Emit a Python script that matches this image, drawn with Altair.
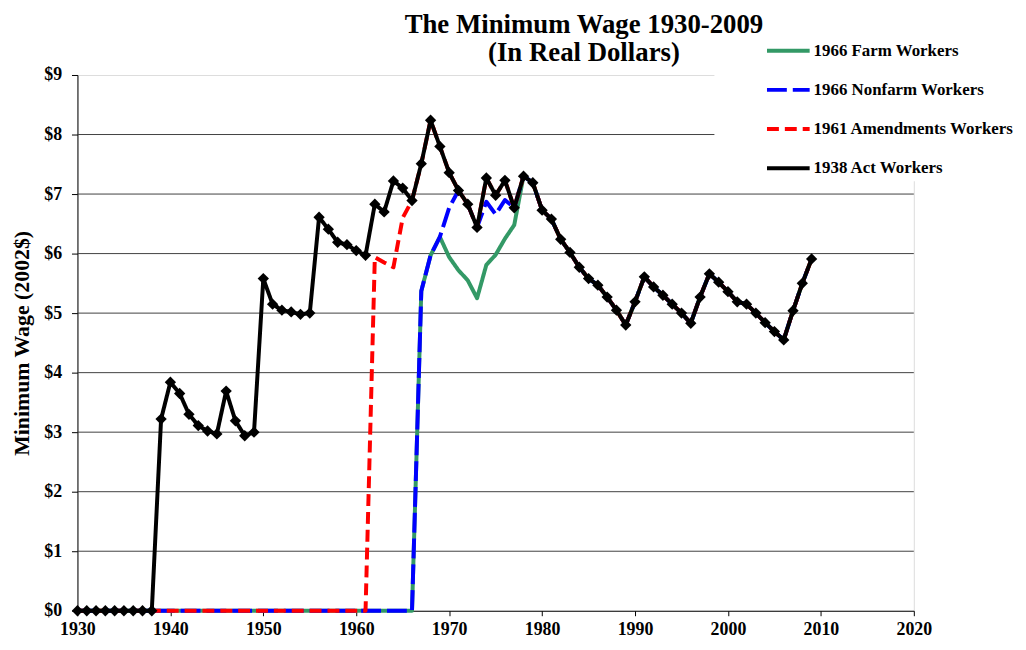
import altair as alt
import pandas as pd

# ---------------- data ----------------
years = list(range(1930, 2010))

# 1938 Act workers, real 2002 dollars, 1930..2009
act_1938 = [
    0, 0, 0, 0, 0, 0, 0, 0, 0,                                   # 1930-1938
    3.22, 3.84, 3.65, 3.30, 3.11, 3.02, 2.97, 3.69, 3.19, 2.94, 3.00,  # 1939-1949
    5.58, 5.15, 5.05, 5.02, 4.98, 5.00,                           # 1950-1955
    6.61, 6.41, 6.19, 6.15, 6.05, 5.97,                           # 1956-1961
    6.83, 6.70, 7.22, 7.10, 6.89,                                 # 1962-1966
    7.51, 8.24, 7.80, 7.36, 7.06, 6.83, 6.44,                     # 1967-1973
    7.27, 6.98, 7.23, 6.77, 7.30, 7.19,                           # 1974-1979
    6.73, 6.58, 6.24, 6.02, 5.77, 5.58, 5.47, 5.27, 5.05, 4.80,   # 1980-1989
    5.19, 5.61, 5.44, 5.30, 5.15, 5.00, 4.83, 5.27, 5.66, 5.52,   # 1990-1999
    5.36, 5.19, 5.15, 5.00, 4.84, 4.69, 4.55, 5.04, 5.50, 5.91,   # 2000-2009
]
amend_1961_early = [5.94, 5.85, 5.77, 6.60]          # 1962-1965
nonfarm_1966_early = [5.37, 5.97, 6.28, 6.77]        # 1967-1970
nonfarm_1966_mid = [6.87, 6.66, 6.90]                # 1974-1976
farm_1966_early = [5.37, 5.97, 6.28, 5.94, 5.72, 5.55, 5.25,
                   5.81, 5.98, 6.25, 6.48]           # 1967-1977

series_names = ["1966 Farm Workers", "1966 Nonfarm Workers",
                "1961 Amendments Workers", "1938 Act Workers"]
series_colors = ["#339966", "#0000FF", "#FF0000", "#000000"]
series_dashes = [[1, 0], [20, 6], [12, 6], [1, 0]]

dollar_ticks = list(range(0, 10))
year_ticks = list(range(1930, 2030, 10))
grid_levels = list(range(1, 9))

title_lines = ["The Minimum Wage 1930-2009", "(In Real Dollars)"]
y_title = "Minimum Wage (2002$)"


def ix(y):
    return y - 1930


amend_1961 = [0] * ix(1962) + amend_1961_early + act_1938[ix(1966):]
nonfarm_1966 = ([0] * ix(1967) + nonfarm_1966_early + act_1938[ix(1971):ix(1974)]
                + nonfarm_1966_mid + act_1938[ix(1977):])
farm_1966 = [0] * ix(1967) + farm_1966_early + act_1938[ix(1978):]

series_values = [farm_1966, nonfarm_1966, amend_1961, act_1938]

rows = []
for name, vals in zip(series_names, series_values):
    for yr, v in zip(years, vals):
        rows.append({"year": yr, "value": v, "series": name})
df = pd.DataFrame(rows)
grid_df = pd.DataFrame({"level": grid_levels})

FONT = "Liberation Serif"

x_enc = alt.X(
    "year:Q",
    scale=alt.Scale(domain=[1930, 2020], nice=False, zero=False),
    axis=alt.Axis(values=year_ticks, format="d", title=None, grid=False,
                  labelFlush=False,
                  labelFont=FONT, labelFontSize=18, labelFontWeight="bold",
                  labelColor="black", tickSize=5, labelPadding=5,
                  domainColor="black", tickColor="black"),
)
y_axis = alt.Axis(values=dollar_ticks, labelExpr="'$' + datum.value",
                  title=y_title, grid=False, labelFlush=False,
                  labelFont=FONT, labelFontSize=18, labelFontWeight="bold",
                  labelColor="black", tickSize=6, labelPadding=10,
                  titleFont=FONT, titleFontSize=22, titleFontWeight="bold",
                  titleColor="black", titlePadding=10,
                  domainColor="black", tickColor="black")
y_scale = alt.Scale(domain=[0, 9], nice=False)

legend = alt.Legend(
    title=None, orient="none", legendX=642, legendY=-53,
    fillColor="white", padding=5, symbolOffset=46,
    symbolType="stroke", symbolSize=1849, symbolStrokeWidth=4,
    labelFont=FONT, labelFontSize=17, labelFontWeight="bold",
    labelColor="black", labelOffset=2, rowPadding=7.5, labelLimit=400,
)
color_enc = alt.Color("series:N",
                      scale=alt.Scale(domain=series_names, range=series_colors),
                      legend=legend)
dash_enc = alt.StrokeDash("series:N",
                          scale=alt.Scale(domain=series_names, range=series_dashes),
                          legend=legend)

grid = alt.Chart(grid_df).mark_rule(color="#404040", strokeWidth=1).encode(
    y=alt.Y("level:Q", scale=y_scale, axis=y_axis)
)

layers = [grid]
for name in series_names:
    layers.append(
        alt.Chart(df).transform_filter(alt.datum.series == name)
        .mark_line(strokeWidth=4, strokeJoin="round")
        .encode(x=x_enc, y=alt.Y("value:Q", scale=y_scale, axis=y_axis),
                color=color_enc, strokeDash=dash_enc, order="year:Q")
    )

points = (
    alt.Chart(df).transform_filter(alt.datum.series == series_names[3])
    .mark_point(shape="diamond", filled=True, size=130, color="black", opacity=1)
    .encode(x=x_enc, y=alt.Y("value:Q", scale=y_scale, axis=y_axis))
)
layers.append(points)

chart = (
    alt.layer(*layers)
    .properties(
        width=843, height=540,
        autosize=alt.AutoSizeParams(type="none"),
        padding={"left": 70, "top": 65, "right": 105, "bottom": 34},
        title=alt.Title(text=title_lines, font=FONT, fontSize=27,
                        fontWeight="bold", color="black", anchor="middle",
                        dx=89, offset=-45, lineHeight=28),
    )
    .configure_view(stroke=None)
    .configure(background="white")
)

chart.save("out.html", embed_options={"renderer": "svg", "actions": False})
